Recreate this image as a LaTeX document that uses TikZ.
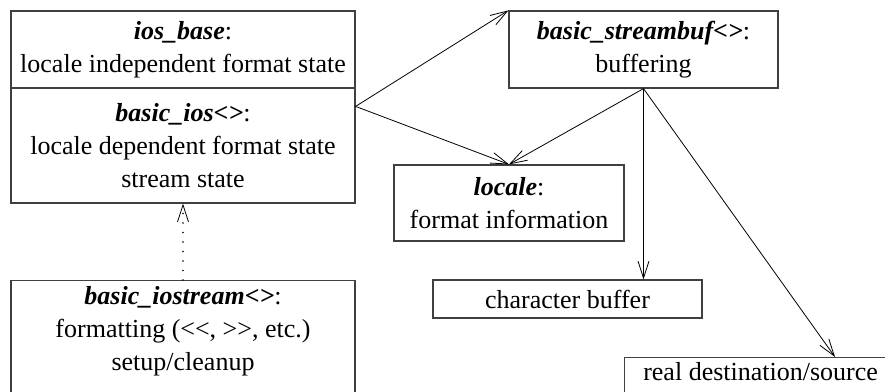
\documentclass[tikz,border=0pt]{standalone}
\usepackage{fontspec}
\setmainfont{Liberation Serif}
\usetikzlibrary{arrows.meta}

\newcommand{\cname}[1]{\textbf{\textit{#1}}}

\begin{document}
\begin{tikzpicture}[x=1pt,y=-1pt,
		box/.style={draw=black!75,line width=1.2pt,inner sep=0pt,align=center,
			font=\fontsize{26}{33}\selectfont},
		link/.style={line width=0.8pt,-{Straight Barb[length=17pt,width=11pt]}},
		uses/.style={line width=1.8pt,line cap=round,dash pattern=on 0pt off 9.5pt,
			-{Straight Barb[length=17pt,width=11pt,line width=0.8pt]}}]
		\useasboundingbox (0,0) rectangle (885,391);

		% >>> boxes
		\node[box,minimum width=344pt,minimum height=77pt] (iosbase) at (183,49.5)
			{\cname{ios\_base}:\\ locale independent format state};
		\node[box,minimum width=344pt,minimum height=115pt] (basicios) at (183,145.5)
			{\cname{basic\_ios<>}:\\ locale dependent format state\\ stream state};
		\node[box,anchor=north,minimum width=344pt,inner ysep=6pt,text depth=110pt] (iostream) at (183,280)
			{\cname{basic\_iostream<>}:\\ formatting (<{}<, >{}>, etc.)\\ setup/cleanup};
		\node[box,minimum width=269pt,minimum height=77pt] (streambuf) at (643.5,49.5)
			{\cname{basic\_streambuf<>}:\\ buffering};
		\node[box,minimum width=230pt,minimum height=76pt] (locale) at (509,203)
			{\cname{locale}:\\ format information};
		\node[box,minimum width=269pt,minimum height=38pt] (charbuf) at (567.5,299)
			{character buffer};
		\node[box,anchor=north west,minimum width=272pt,inner ysep=5pt,text depth=40pt] (realdest) at (624,357)
			{real destination/source};
		% <<< boxes

		% >>> links
		\draw[link] ([yshift=-19pt]basicios.north east) -- (streambuf.north west);
		\draw[link] ([yshift=-19pt]basicios.north east) -- (locale.north);
		\draw[link] (streambuf.south) -- (locale.north);
		\draw[link] (streambuf.south) -- (streambuf.south |- charbuf.north);
		\draw[link] (streambuf.south) -- ([xshift=211pt]realdest.north west);
		\draw[uses] (iostream.north) -- (basicios.south);
		% <<< links
\end{tikzpicture}
\end{document}
